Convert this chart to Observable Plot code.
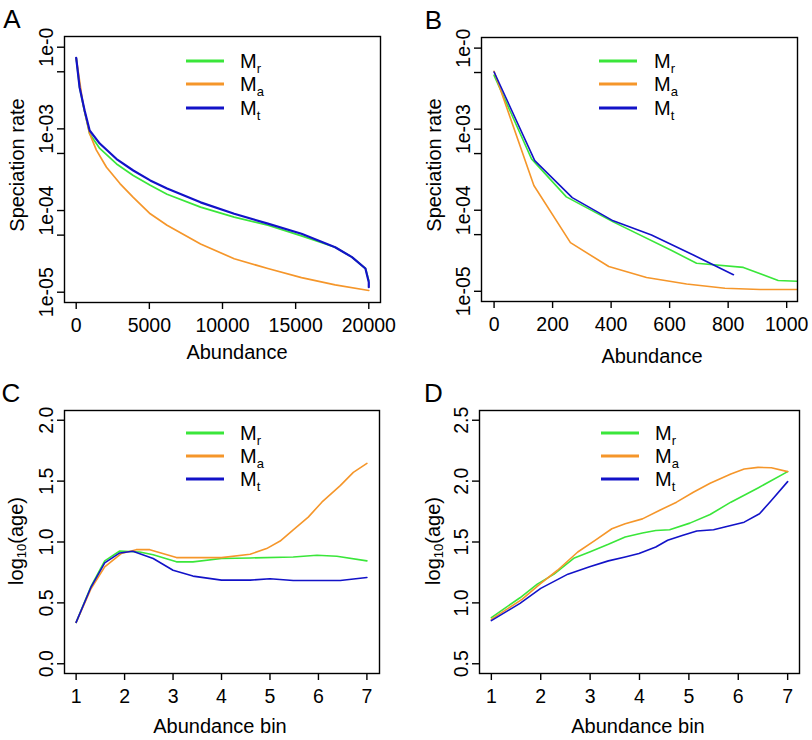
<!DOCTYPE html>
<html><head><meta charset="utf-8">
<script src="https://cdn.jsdelivr.net/npm/d3@7"></script>
<script src="https://cdn.jsdelivr.net/npm/@observablehq/plot@0.6"></script>
<style>
body{margin:0;background:#fff;font-family:Arial,"Liberation Sans",sans-serif;color:#000;}
#fig{position:relative;width:812px;height:740px;background:#fff;overflow:hidden;}
.panel{position:absolute;width:406px;height:370px;}
.panel svg{position:absolute;left:0;top:0;overflow:visible;}
.abs{position:absolute;white-space:nowrap;line-height:1;transform:translate(-50%,-50%);}
.letter{font-size:26px;}
.xt{font-size:20px;}
.yt{font-size:20px;transform:translate(-50%,-50%) rotate(-90deg);}
.yt sub{font-size:13px;vertical-align:-3px;}
.lg-line{position:absolute;height:3px;width:38px;transform:translateY(-50%);}
.lg-lab{position:absolute;font-size:20px;line-height:1;white-space:nowrap;transform:translateY(-50%);}
.lg-lab sub{font-size:13px;vertical-align:-5px;}
</style></head>
<body><div id="fig"></div>
<script>
// ---------- series meta ----------
const seriesKeys = ["Mr","Ma","Mt"];
const seriesSubs = ["r","a","t"];
const seriesColors = ["#3ae63a","#f5962a","#1212c8"];

// ---------- Panel A: speciation rate vs abundance ----------
const aX_Mr = [0,230,575,920,1610,2760,3900,5060,6210,8500,10800,13100,15400,17700,18850,19770,20000];
const aY_Mr = [7.41e-3,3.24e-3,1.62e-3,8.71e-4,5.75e-4,3.72e-4,2.69e-4,2.04e-4,1.58e-4,1.10e-4,8.32e-5,6.61e-5,4.90e-5,3.55e-5,2.69e-5,1.95e-5,1.38e-5];
const aX_Ma = [0,460,920,1380,2070,2990,3900,5060,6210,8500,10800,13100,15400,17700,20000];
const aY_Ma = [7.41e-3,2.04e-3,8.71e-4,5.50e-4,3.39e-4,2.14e-4,1.45e-4,9.12e-5,6.61e-5,3.89e-5,2.57e-5,1.95e-5,1.51e-5,1.23e-5,1.05e-5];
const aX_Mt = [0,230,575,920,1610,2760,3900,5060,6210,8500,10800,13100,15400,17700,18850,19770,20000,20000];
const aY_Mt = [7.41e-3,3.24e-3,1.68e-3,9.55e-4,6.61e-4,4.27e-4,3.09e-4,2.34e-4,1.86e-4,1.26e-4,9.12e-5,6.92e-5,5.19e-5,3.55e-5,2.69e-5,1.95e-5,1.32e-5,1.15e-5];

// ---------- Panel B ----------
const bX_Mr = [0,128,247,407,607,692,852,971,1040];
const bY_Mr = [4.62e-3,4.30e-4,1.46e-4,7.19e-5,3.18e-5,2.22e-5,1.97e-5,1.36e-5,1.33e-5];
const bX_Ma = [0,136,261,392,521,658,789,909,1040];
const bY_Ma = [5.18e-3,2.02e-4,3.98e-5,2.02e-5,1.48e-5,1.23e-5,1.09e-5,1.05e-5,1.05e-5];
const bX_Mt = [0,139,267,407,538,681,818];
const bY_Mt = [5.08e-3,4.09e-4,1.43e-4,7.40e-5,4.94e-5,2.81e-5,1.60e-5];

// ---------- Panel C: log10(age) vs abundance bin ----------
const cX_Mr = [1,1.31,1.59,1.9,2.31,2.59,3.07,3.41,4.0,4.59,5.48,5.97,6.38,7.0];
const cY_Mr = [0.34,0.638,0.845,0.926,0.918,0.896,0.837,0.837,0.864,0.869,0.877,0.891,0.883,0.845];
const cX_Ma = [1,1.31,1.59,1.93,2.24,2.52,3.07,4.0,4.59,4.93,5.21,5.48,5.79,6.07,6.45,6.72,7.0];
const cY_Ma = [0.34,0.618,0.796,0.905,0.937,0.937,0.872,0.872,0.899,0.946,1.008,1.1,1.204,1.327,1.463,1.572,1.646];
const cX_Mt = [1,1.31,1.59,1.9,2.17,2.59,3.0,3.41,4.0,4.59,5.0,5.48,6.45,7.0];
const cY_Mt = [0.34,0.632,0.828,0.91,0.924,0.864,0.768,0.72,0.687,0.687,0.698,0.684,0.684,0.708];

// ---------- Panel D ----------
const dX_Mr = [1,1.24,1.58,1.93,2.27,2.68,2.99,3.37,3.71,4.06,4.33,4.61,5.02,5.43,5.85,6.40,7.0];
const dY_Mr = [0.879,0.947,1.042,1.154,1.236,1.369,1.418,1.481,1.541,1.574,1.595,1.601,1.655,1.726,1.827,1.944,2.078];
const dX_Ma = [1,1.62,1.995,2.34,2.75,3.1,3.44,3.71,4.06,4.40,4.75,5.09,5.43,5.85,6.12,6.40,6.67,7.0];
const dY_Ma = [0.865,1.029,1.159,1.268,1.418,1.514,1.609,1.65,1.69,1.759,1.827,1.909,1.982,2.059,2.1,2.113,2.11,2.078];
const dX_Mt = [1,1.58,2.0,2.55,2.99,3.37,3.71,3.99,4.33,4.57,4.88,5.16,5.50,5.85,6.12,6.43,6.67,7.0];
const dY_Mt = [0.854,0.996,1.119,1.236,1.296,1.345,1.377,1.405,1.459,1.514,1.555,1.590,1.601,1.636,1.663,1.732,1.841,1.996];

// ---------- ticks ----------
const rateTicks = [1e-2,5e-3,1e-3,5e-4,1e-4,5e-5,1e-5];
const rateLabelValues = [1e-2,1e-3,1e-4,1e-5];
const rateLabels = ["1e-0","1e-03","1e-04","1e-05"];
const aXTicks = [0,5000,10000,15000,20000];
const bXTicks = [0,200,400,600,800,1000];
const binTicks = [1,2,3,4,5,6,7];
const cYTicks = [0,0.5,1,1.5,2];
const dYTicks = [0.5,1,1.5,2,2.5];
const panelLetters = ["A","B","C","D"];
const xTitles = ["Abundance","Abundance","Abundance bin","Abundance bin"];

const rateFormat = d => {
  const i = rateLabelValues.findIndex(v => Math.abs(Math.log10(v) - Math.log10(d)) < 1e-6);
  return i >= 0 ? rateLabels[i] : "";
};
const intFormat = d => String(d);
const rows = (xs, ys, s) => xs.map((x, i) => ({x, y: ys[i], s}));

const panels = [
  {left:0, top:0, m:[36,26,68,64], xDomain:[-800,20800], yType:"log", yDomain:[Math.pow(10,-5.126),Math.pow(10,-1.869)],
   xTicks:aXTicks, yTicks:rateTicks, yFmt:rateFormat, sw:[1.7,1.7,2.2],
   data:[rows(aX_Mr,aY_Mr,"Mr"),rows(aX_Ma,aY_Ma,"Ma"),rows(aX_Mt,aY_Mt,"Mt")],
   yTitle:"Speciation rate", yTitlePos:[17,165], xTitlePos:[237,352], letterPos:[12,19], legend:[186,240,61]},
  {left:406, top:0, m:[37,15,69,75], xDomain:[-43,1037], yType:"log", yDomain:[Math.pow(10,-5.126),Math.pow(10,-1.869)],
   xTicks:bXTicks, yTicks:rateTicks, yFmt:rateFormat, sw:[1.6,1.6,1.6],
   data:[rows(bX_Mr,bY_Mr,"Mr"),rows(bX_Ma,bY_Ma,"Ma"),rows(bX_Mt,bY_Mt,"Mt")],
   yTitle:"Speciation rate", yTitlePos:[433.5,165], xTitlePos:[652,356], letterPos:[433.5,20], legend:[599,654,61]},
  {left:0, top:370, m:[40,27,67,64], xDomain:[0.76,7.26], yType:"linear", yDomain:[-0.08,2.08],
   xTicks:binTicks, yTicks:cYTicks, yFmt:d3.format(".1f"), sw:[1.6,1.6,1.6],
   data:[rows(cX_Mr,cY_Mr,"Mr"),rows(cX_Ma,cY_Ma,"Ma"),rows(cX_Mt,cY_Mt,"Mt")],
   yTitle:"log<sub>10</sub>(age)", yTitlePos:[17,541], xTitlePos:[220,726], letterPos:[11,393], legend:[186,240,432.7]},
  {left:406, top:370, m:[40,13,67,73], xDomain:[0.76,7.24], yType:"linear", yDomain:[0.42,2.58],
   xTicks:binTicks, yTicks:dYTicks, yFmt:d3.format(".1f"), sw:[1.6,1.6,1.6],
   data:[rows(dX_Mr,dY_Mr,"Mr"),rows(dX_Ma,dY_Ma,"Ma"),rows(dX_Mt,dY_Mt,"Mt")],
   yTitle:"log<sub>10</sub>(age)", yTitlePos:[433.5,541], xTitlePos:[638,726], letterPos:[433.5,393], legend:[601,655,432.7]}
];

const fig = document.getElementById("fig");
panels.forEach((p, k) => {
  const div = document.createElement("div");
  div.className = "panel";
  div.style.left = p.left + "px";
  div.style.top = p.top + "px";
  const chart = Plot.plot({
    width: 406, height: 370,
    marginTop: p.m[0], marginRight: p.m[1], marginBottom: p.m[2], marginLeft: p.m[3],
    style: {fontFamily: "Arial, 'Liberation Sans', sans-serif", fontSize: "19.5px", color: "#000", background: "transparent"},
    x: {domain: p.xDomain},
    y: {type: p.yType, domain: p.yDomain},
    marks: [
      ...p.data.map((d, i) => Plot.line(d, {x: "x", y: "y", stroke: seriesColors[i], strokeWidth: p.sw[i], clip: true})),
      Plot.frame({stroke: "#000", strokeWidth: 1.4}),
      Plot.axisX({ticks: p.xTicks, tickSize: 7, tickPadding: 9, tickFormat: intFormat, label: null, strokeWidth: 1.4}),
      Plot.axisY({ticks: p.yTicks, tickSize: 7, tickPadding: 5, tickRotate: -90, tickFormat: p.yFmt, label: null, strokeWidth: 1.4})
    ]
  });
  div.appendChild(chart);
  fig.appendChild(div);

  const add = (cls, html, x, y) => {
    const e = document.createElement("div");
    e.className = "abs " + cls;
    e.innerHTML = html;
    e.style.left = x + "px"; e.style.top = y + "px";
    fig.appendChild(e);
  };
  add("letter", panelLetters[k], p.letterPos[0], p.letterPos[1]);
  add("xt", xTitles[k], p.xTitlePos[0], p.xTitlePos[1]);
  add("yt", p.yTitle, p.yTitlePos[0], p.yTitlePos[1]);

  seriesKeys.forEach((s, i) => {
    const y = p.legend[2] + i * 23.3;
    const ln = document.createElement("div");
    ln.className = "lg-line";
    ln.style.left = p.legend[0] + "px"; ln.style.top = y + "px";
    ln.style.background = seriesColors[i];
    fig.appendChild(ln);
    const lb = document.createElement("div");
    lb.className = "lg-lab";
    lb.style.left = p.legend[1] + "px"; lb.style.top = (y + 2) + "px";
    lb.innerHTML = "M<sub>" + seriesSubs[i] + "</sub>";
    fig.appendChild(lb);
  });
});
</script></body></html>
